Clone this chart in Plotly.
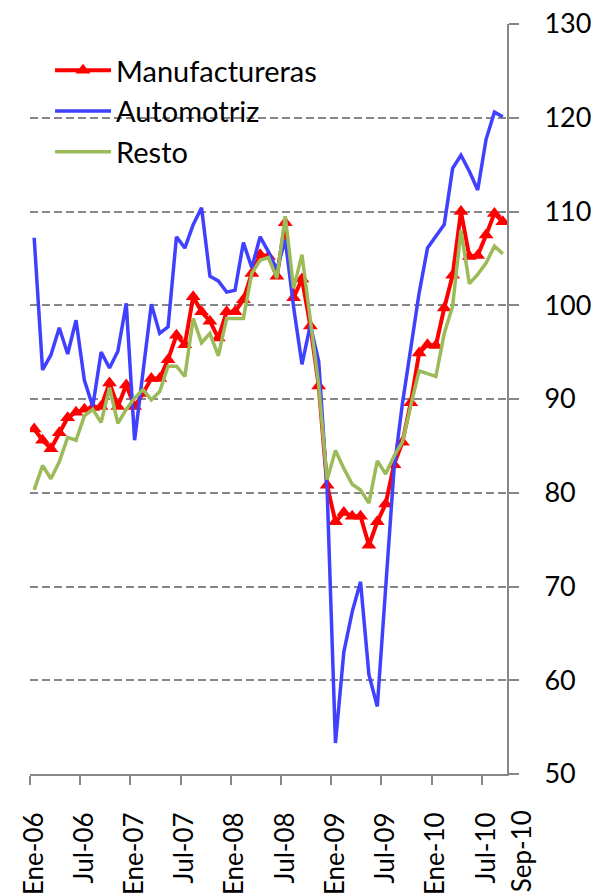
import plotly.graph_objects as go

meses = ["Ene", "Feb", "Mar", "Abr", "May", "Jun", "Jul", "Ago", "Sep", "Oct", "Nov", "Dic"]
anios = ["06", "07", "08", "09", "10"]
periodos = [f"{m}-{a}" for a in anios for m in meses][:57]  # Ene-06 .. Sep-10

manufactureras = [
    86.8, 85.6, 84.7, 86.4, 88.0, 88.6, 88.9, 89.1, 89.2, 91.7, 89.2, 91.5,
    89.2, 90.6, 92.2, 92.2, 94.2, 96.8, 95.8, 100.9, 99.3, 98.3, 96.5, 99.3,
    99.3, 100.6, 103.4, 105.4, 105.2, 103.1, 108.8, 100.8, 102.8, 97.8, 91.4, 80.8,
    76.9, 77.9, 77.5, 77.5, 74.4, 76.9, 78.8, 83.0, 85.4, 89.6, 94.9, 95.8,
    95.7, 99.7, 103.2, 110.0, 105.2, 105.3, 107.5, 109.8, 108.9,
]
automotriz = [
    107.2, 93.1, 94.7, 97.6, 94.8, 98.4, 92.0, 89.2, 95.0, 93.3, 95.1, 100.2,
    85.6, 93.0, 100.1, 97.0, 97.7, 107.3, 106.1, 108.6, 110.4, 103.1, 102.6, 101.4,
    101.6, 106.7, 104.0, 107.3, 105.7, 103.8, 107.0, 99.8, 93.7, 97.9, 94.0, 80.5,
    53.3, 63.0, 67.3, 70.5, 60.6, 57.2, 69.5, 82.5, 89.5, 95.5, 101.3, 106.1,
    107.3, 108.6, 114.6, 116.0, 114.3, 112.3, 117.7, 120.6, 120.1,
]
resto = [
    80.3, 82.9, 81.5, 83.3, 85.9, 85.6, 88.2, 88.9, 87.5, 91.2, 87.4, 88.9,
    90.1, 91.0, 89.9, 90.8, 93.5, 93.5, 92.4, 98.6, 96.0, 97.0, 94.6, 98.6,
    98.6, 98.6, 103.4, 104.8, 105.1, 102.9, 109.5, 101.8, 105.4, 98.4, 91.5, 81.4,
    84.5, 82.6, 80.9, 80.3, 78.9, 83.4, 82.0, 83.9, 85.4, 89.3, 93.0, 92.7,
    92.4, 97.0, 99.9, 108.0, 102.3, 103.3, 104.5, 106.3, 105.5,
]

etiquetas = ["Ene-06", "Jul-06", "Ene-07", "Jul-07", "Ene-08", "Jul-08",
             "Ene-09", "Jul-09", "Ene-10", "Jul-10"]
etiqueta_final = "Sep-10"
y_ticks = [50, 60, 70, 80, 90, 100, 110, 120, 130]

x = list(range(len(periodos)))
tick_pos = [periodos.index(e) for e in etiquetas]
tick_bounds = [p - 0.5 for p in tick_pos]

FONT = "Lato, 'Liberation Sans', Arial, sans-serif"
GRAY = "#878787"

fig = go.Figure()
fig.add_trace(go.Scatter(
    x=x, y=manufactureras, name="Manufactureras", mode="lines+markers",
    line=dict(color="#FF0000", width=4),
    marker=dict(symbol="triangle-up", size=13, color="#FF0000"),
    customdata=periodos, hovertemplate="%{customdata}: %{y}<extra>Manufactureras</extra>",
))
fig.add_trace(go.Scatter(
    x=x, y=automotriz, name="Automotriz", mode="lines",
    line=dict(color="#4040FF", width=3.5),
    customdata=periodos, hovertemplate="%{customdata}: %{y}<extra>Automotriz</extra>",
))
fig.add_trace(go.Scatter(
    x=x, y=resto, name="Resto", mode="lines",
    line=dict(color="#9BBB59", width=3.5),
    customdata=periodos, hovertemplate="%{customdata}: %{y}<extra>Resto</extra>",
))

fig.add_annotation(
    x=1.030, xref="paper", y=0, yref="paper",
    text=etiqueta_final, textangle=-90, showarrow=False,
    xanchor="center", yanchor="top", yshift=-34,
    font=dict(family=FONT, size=26, color="black"),
)

fig.update_layout(
    width=591, height=896,
    margin=dict(l=30, r=84, t=24, b=122, autoexpand=False),
    paper_bgcolor="white", plot_bgcolor="white",
    font=dict(family=FONT, size=27, color="black"),
    showlegend=True,
    legend=dict(x=0.042, y=0.972, xanchor="left", yanchor="top",
                bgcolor="rgba(0,0,0,0)", font=dict(family=FONT, size=29, color="black"),
                itemwidth=56, tracegroupgap=0),
    xaxis=dict(range=[-0.5, len(periodos) - 0.5], tickmode="array",
               tickvals=tick_pos, ticktext=etiquetas, tickangle=-90, ticks="",
               tickfont=dict(family=FONT, size=26, color="black"),
               showline=True, linecolor=GRAY, linewidth=2, showgrid=False,
               zeroline=False, ticklabelstandoff=26, automargin=False,
               ticklabeloverflow="allow",
               minor=dict(tickmode="array", tickvals=tick_bounds, ticks="outside",
                          ticklen=9, tickwidth=2, tickcolor=GRAY, showgrid=False)),
    yaxis=dict(range=[50, 130], side="right", tickmode="array", tickvals=y_ticks,
               tickfont=dict(family=FONT, size=27, color="black"),
               showgrid=True, gridcolor=GRAY, gridwidth=2, griddash="8px,4px",
               showline=True, linecolor=GRAY, linewidth=2, ticks="outside",
               ticklen=10, tickwidth=2, tickcolor=GRAY, zeroline=False,
               ticklabelstandoff=20, automargin=False, ticklabeloverflow="allow"),
)

fig.write_html(
    "out.html",
    config={"displayModeBar": False},
    post_script="document.body.style.margin='0';document.body.style.overflow='hidden';",
)
